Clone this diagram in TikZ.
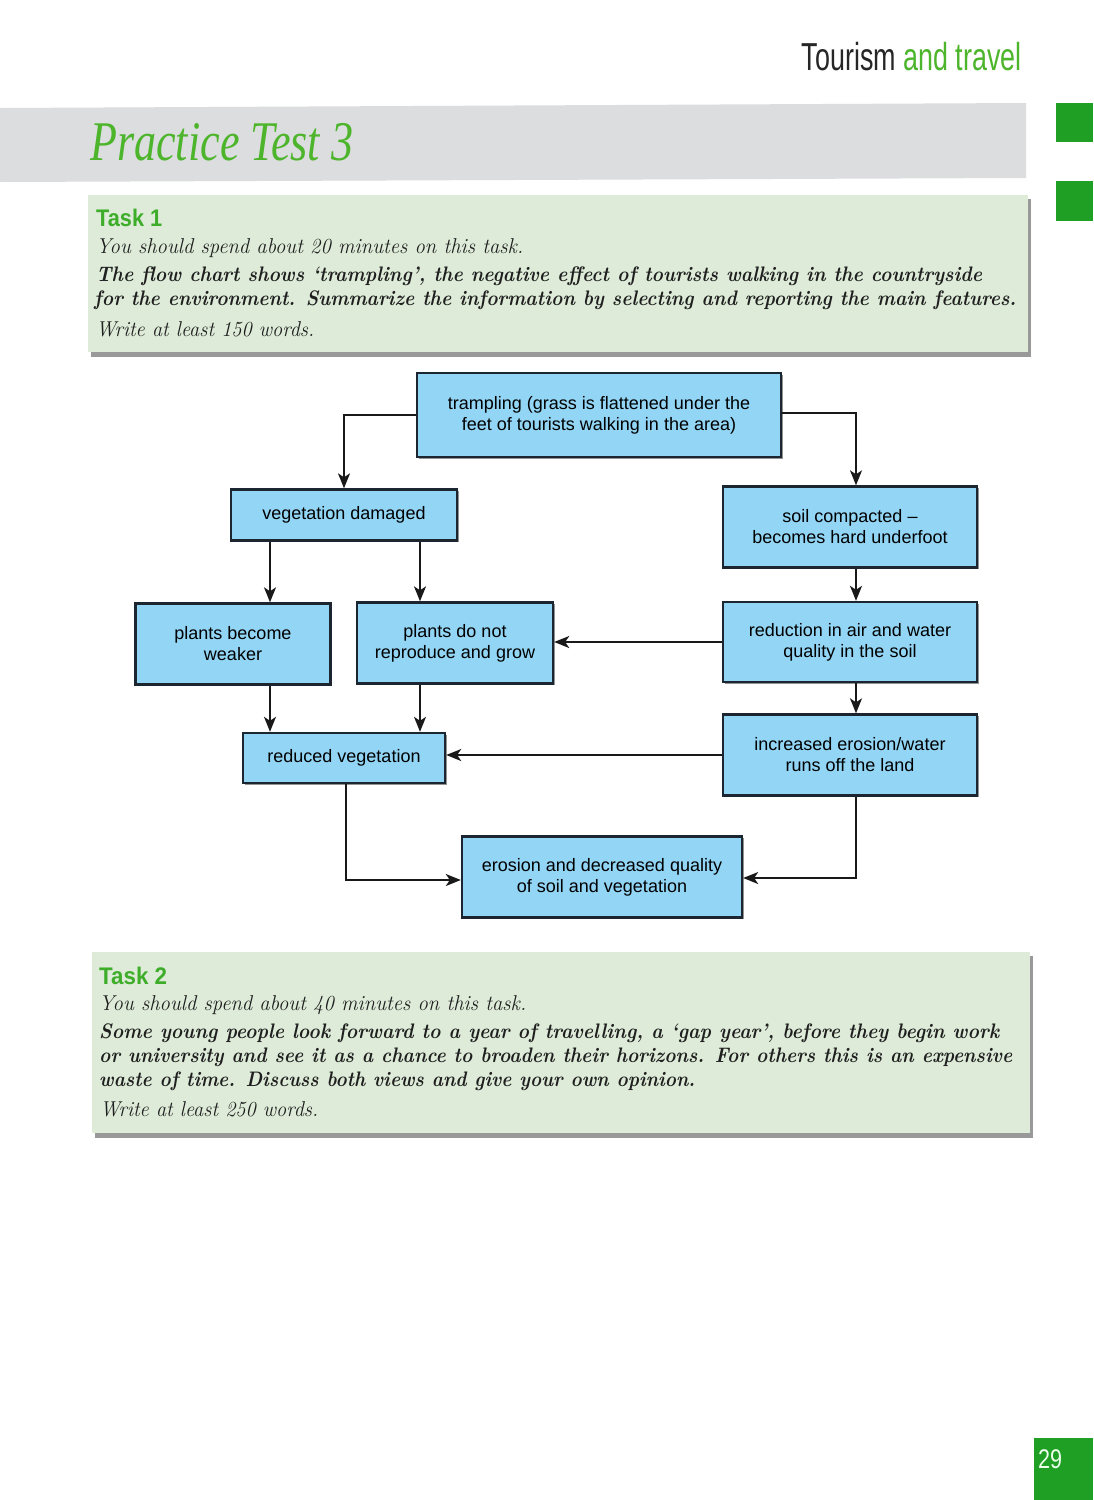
\documentclass[tikz,border=0pt]{standalone}
\usepackage{fontspec}
\usetikzlibrary{arrows.meta,shadows}
\newfontfamily\sansf{Liberation Sans}
\newfontfamily\timesf{Liberation Serif}
\definecolor{pgreen}{HTML}{4DB52B}
\definecolor{tgreen}{HTML}{3EAD2A}
\definecolor{tabgreen}{HTML}{1FA024}
\definecolor{bandgray}{HTML}{DCDDDF}
\definecolor{taskbg}{HTML}{DDEBD8}
\definecolor{nodeblue}{HTML}{92D5F5}
\definecolor{boxline}{HTML}{1B2630}
\newcommand{\itf}{\fontsize{21.5}{25}\selectfont\itshape}
\newcommand{\bif}{\fontsize{21}{25}\selectfont\bfseries\itshape}
\begin{document}
\begin{tikzpicture}[x=1pt,y=-1pt,
  fbox/.style={draw=boxline,line width=2.4pt,fill=nodeblue,
    font=\sansf\fontsize{18}{21}\selectfont,align=center,inner sep=0pt,
    drop shadow={shadow xshift=1.5pt,shadow yshift=-1.5pt,fill=black!60,opacity=0.7}},
  arr/.style={draw=black!90,line width=1.6pt,-{Stealth[length=15pt,width=12pt,inset=4pt]}},
  tline/.style={anchor=base west,inner sep=0pt,text=black!88},
  tasklbl/.style={anchor=base west,inner sep=0pt,text=tgreen,font=\sansf\bfseries\fontsize{24}{28}\selectfont},
  taskbox/.style={fill=taskbg},
  taskshadow/.style={fill=black!40}]
\useasboundingbox (0,0) rectangle (1093,1500);
\fill[white] (0,0) rectangle (1093,1500);

% header
\node[anchor=base east,inner sep=0pt,font=\sansf\fontsize{39}{44}\selectfont] (hdr) at (1022,70)
  {\scalebox{0.69}[1]{\textcolor{black!85}{Tourism} \textcolor{pgreen}{and travel}}};
\fill[bandgray] (0,108) -- (1026,103) -- (1026,178) -- (0,182) -- cycle;
\fill[tabgreen] (1056,103) rectangle (1093,142);
\fill[tabgreen] (1056,181) rectangle (1093,221);
\node[anchor=base west,inner sep=0pt,text=pgreen,font=\timesf\itshape\fontsize{56}{60}\selectfont] (title) at (90,160)
  {\resizebox{263pt}{\height}{Practice Test 3}};

% task 1
\fill[taskshadow] (91,199) rectangle (1031,357);
\fill[taskbox] (88,195) rectangle (1028,352);
\node[tasklbl] (task1) at (96,226) {\resizebox{66pt}{\height}{Task 1}};
\node[tline] (t1a) at (96,253) {\resizebox{427pt}{\height}{\itf You should spend about 20 minutes on this task.}};
\node[tline] (t1b) at (96,281) {\resizebox{886pt}{\height}{\bif The flow chart shows `trampling', the negative effect of tourists walking in the countryside}};
\node[tline] (t1c) at (94,305) {\resizebox{922pt}{\height}{\bif for the environment. Summarize the information by selecting and reporting the main features.}};
\node[tline] (t1d) at (96,336) {\resizebox{218pt}{\height}{\itf Write at least 150 words.}};

% flow chart
\node[fbox,minimum width=364pt,minimum height=84pt] (top) at (599,415)
  {trampling (grass is flattened under the\\feet of tourists walking in the area)};
\node[fbox,minimum width=226pt,minimum height=51pt] (veg) at (344,515) {vegetation damaged};
\node[fbox,minimum width=254pt,minimum height=81pt] (soil) at (850,527) {soil compacted –\\becomes hard underfoot};
\node[fbox,minimum width=195pt,minimum height=81pt] (weak) at (233,644) {plants become\\weaker};
\node[fbox,minimum width=196pt,minimum height=81pt] (repro) at (455,643) {plants do not\\reproduce and grow};
\node[fbox,minimum width=254pt,minimum height=80pt] (red) at (850,642) {reduction in air and water\\quality in the soil};
\node[fbox,minimum width=202pt,minimum height=50pt] (rveg) at (344,758) {reduced vegetation};
\node[fbox,minimum width=254pt,minimum height=81pt] (inc) at (850,755) {increased erosion/water\\runs off the land};
\node[fbox,minimum width=280pt,minimum height=81pt] (ero) at (602,877) {erosion and decreased quality\\of soil and vegetation};

\coordinate (vL) at ([xshift=-74pt]veg.south);
\coordinate (vR) at ([xshift=76pt]veg.south);
\coordinate (sN) at ([xshift=6pt]soil.north);
\coordinate (sS) at ([xshift=6pt]soil.south);
\coordinate (rN) at ([xshift=6pt]red.north);
\coordinate (rS) at ([xshift=6pt]red.south);
\coordinate (iN) at ([xshift=6pt]inc.north);
\coordinate (iS) at ([xshift=6pt]inc.south);
\coordinate (wS) at ([xshift=37pt]weak.south);
\coordinate (pS) at ([xshift=-35pt]repro.south);
\coordinate (rvS) at ([xshift=2pt]rveg.south);
\coordinate (eW) at ([yshift=-3pt]ero.west);
\coordinate (eE) at ([yshift=-1pt]ero.east);

\draw[arr] (top.west) -| (veg.north);
\draw[arr] ([yshift=2pt]top.east) -| (sN);
\draw[arr] (vL) -- (vL |- weak.north);
\draw[arr] (vR) -- (vR |- repro.north);
\draw[arr] (sS) -- (rN);
\draw[arr] (red.west) -- (red.west -| repro.east);
\draw[arr] (rS) -- (iN);
\draw[arr] (wS) -- (wS |- rveg.north);
\draw[arr] (pS) -- (pS |- rveg.north);
\draw[arr] (inc.west) -- (inc.west -| rveg.east);
\draw[arr] (rvS) |- (eW);
\draw[arr] (iS) |- (eE);

% task 2
\fill[taskshadow] (95,956) rectangle (1033,1138);
\fill[taskbox] (92,952) rectangle (1030,1133);
\node[tasklbl] (task2) at (99,984) {\resizebox{68pt}{\height}{Task 2}};
\node[tline] (t2a) at (99,1010) {\resizebox{427pt}{\height}{\itf You should spend about 40 minutes on this task.}};
\node[tline] (t2b) at (99,1038) {\resizebox{900pt}{\height}{\bif Some young people look forward to a year of travelling, a `gap year', before they begin work}};
\node[tline] (t2c) at (99,1062) {\resizebox{913pt}{\height}{\bif or university and see it as a chance to broaden their horizons. For others this is an expensive}};
\node[tline] (t2d) at (99,1086) {\resizebox{596pt}{\height}{\bif waste of time. Discuss both views and give your own opinion.}};
\node[tline] (t2e) at (100,1116) {\resizebox{218pt}{\height}{\itf Write at least 250 words.}};

% page number
\fill[tabgreen] (1034,1438) rectangle (1093,1500);
\node[anchor=base west,inner sep=0pt,text=white!92!green,font=\sansf\fontsize{27}{30}\selectfont] (pg) at (1038,1468)
  {\resizebox{24pt}{\height}{29}};
\end{tikzpicture}
\end{document}
